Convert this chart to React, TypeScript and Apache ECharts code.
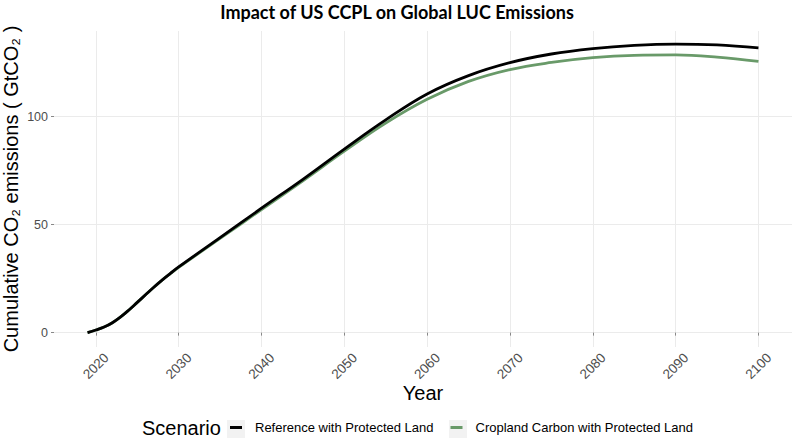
import React, { useEffect, useRef } from "react";
import * as echarts from "echarts";

const years = [2019, 2020, 2021, 2022, 2023, 2024, 2025, 2026, 2027, 2028, 2029, 2030, 2035, 2040, 2045, 2050, 2055, 2060, 2065, 2070, 2075, 2080, 2085, 2090, 2095, 2100];
const referenceValues = [0, 1.2, 2.6, 4.6, 7.3, 10.5, 14, 17.5, 21, 24.3, 27.4, 30.4, 44, 57.6, 71, 85, 98.5, 110.5, 119, 125, 129, 131.5, 133, 133.6, 133.2, 131.8];
const croplandValues = [0, 1.2, 2.6, 4.6, 7.3, 10.5, 14, 17.5, 21, 24.3, 27.3, 30.2, 43.6, 57, 70.3, 84, 97, 108, 116.3, 121.8, 125.1, 127.3, 128.4, 128.6, 127.6, 125.6];
const xTicks = [2020, 2030, 2040, 2050, 2060, 2070, 2080, 2090, 2100];
const yTicks = [0, 50, 100];
const seriesNames = ["Reference with Protected Land", "Cropland Carbon with Protected Land"];

export default function App() {
  const ref = useRef<HTMLDivElement>(null);
  useEffect(() => {
    if (!ref.current) return;
    const chart = echarts.init(ref.current, null, { renderer: "svg" });
    const font = "'Liberation Sans', Arial, sans-serif";
    chart.setOption({
      animation: false,
      backgroundColor: "#ffffff",
      title: {
        text: "Impact of US CCPL on Global LUC Emissions",
        left: "center",
        top: 3,
        padding: 0,
        textStyle: { fontFamily: "Lato, 'Open Sans', sans-serif", fontWeight: "bold", fontSize: 18, color: "#000" },
      },
      grid: { left: 54, right: 2, top: 31, bottom: 92, containLabel: false, outerBoundsMode: "none" },
      xAxis: {
        type: "value",
        min: 2014.95,
        max: 2104.05,
        name: "Year",
        nameLocation: "middle",
        nameGap: 36,
        nameMoveOverlap: false,
        nameTextStyle: { fontFamily: font, fontSize: 20, color: "#000" },
        axisLine: { show: false },
        axisTick: { show: true, customValues: xTicks, length: 3, lineStyle: { color: "#888" } },
        axisLabel: {
          customValues: xTicks,
          formatter: (v: number) => String(Math.round(v)),
          rotate: 45,
          align: "center",
          verticalAlign: "middle",
          margin: 19,
          fontFamily: font,
          fontSize: 13.5,
          color: "#4d4d4d",
        },
        splitLine: { show: true, lineStyle: { color: "#ebebeb", width: 1 } },
      },
      yAxis: {
        type: "value",
        min: -6.65,
        max: 139.65,
        name: "Cumulative CO\u2082 emissions ( GtCO\u2082 )",
        nameLocation: "middle",
        nameRotate: 90,
        nameGap: 33,
        nameMoveOverlap: false,
        nameTextStyle: { fontFamily: font, fontSize: 20, color: "#000" },
        axisLine: { show: false },
        axisTick: { show: true, customValues: yTicks, length: 3, lineStyle: { color: "#888" } },
        axisLabel: { customValues: yTicks, margin: 6, fontFamily: font, fontSize: 12.5, color: "#4d4d4d" },
        splitLine: { show: true, lineStyle: { color: "#ebebeb", width: 1 } },
      },
      legend: {
        data: seriesNames,
        left: 230,
        top: 421,
        padding: 0,
        itemGap: 17,
        itemWidth: 12,
        itemHeight: 3,
        icon: "rect",
        textStyle: { fontFamily: font, fontSize: 13, color: "#000", padding: [0, 0, 0, 8] },
      },
      graphic: [
        { type: "text", left: 142, top: 418, style: { text: "Scenario", fontFamily: font, fontSize: 20, fill: "#000" } },
        { type: "rect", left: 227, top: 420, z: -1, shape: { width: 18, height: 18 }, style: { fill: "#f2f2f2" } },
        { type: "rect", left: 449, top: 420, z: -1, shape: { width: 18, height: 18 }, style: { fill: "#f2f2f2" } },
      ],
      series: [
        {
          name: seriesNames[0],
          type: "line",
          z: 3,
          data: years.map((y, i) => [y, referenceValues[i]]),
          showSymbol: false,
          smooth: 0.4,
          itemStyle: { color: "#000000" },
          lineStyle: { color: "#000000", width: 2.8 },
        },
        {
          name: seriesNames[1],
          type: "line",
          z: 2,
          data: years.map((y, i) => [y, croplandValues[i]]),
          showSymbol: false,
          smooth: 0.4,
          itemStyle: { color: "#699a69" },
          lineStyle: { color: "#699a69", width: 2.8 },
        },
      ],
    });
    return () => chart.dispose();
  }, []);
  return <div ref={ref} style={{ width: 794, height: 439, position: "absolute", left: 0, top: 0 }} />;
}
